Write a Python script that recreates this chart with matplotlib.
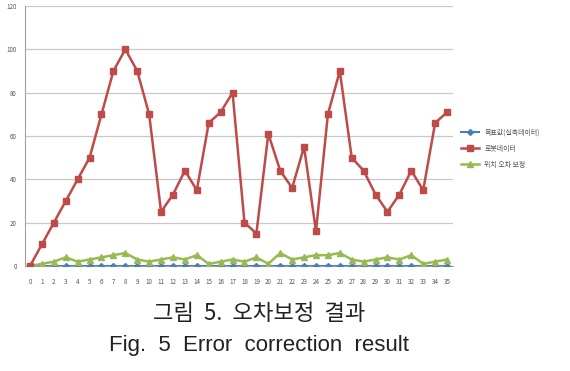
import matplotlib
matplotlib.use("Agg")
import matplotlib.pyplot as plt

plt.rcParams['font.family'] = ['Noto Sans CJK KR', 'DejaVu Sans']

x_labels = list(range(36))
target = [0] * 36
robot = [0, 10, 20, 30, 40, 50, 70, 90, 100, 90, 70, 25, 33, 44, 35, 66, 71, 80,
         20, 15, 61, 44, 36, 55, 16, 70, 90, 50, 44, 33, 25, 33, 44, 35, 66, 71]
corrected = [0, 1, 2, 4, 2, 3, 4, 5, 6, 3, 2, 3, 4, 3, 5, 1, 2, 3,
             2, 4, 1, 6, 3, 4, 5, 5, 6, 3, 2, 3, 4, 3, 5, 1, 2, 3]
series_names = ["목표값(실측데이터)", "로봇데이터", "위치 오차 보정"]
y_ticks = [0, 20, 40, 60, 80, 100, 120]

fig = plt.figure(figsize=(5.70, 3.71), dpi=100)
ax = fig.add_axes([25/570, 1 - 266/371, (453-25)/570, 260/371])

ax.plot(x_labels, target, color='#4a7ebb', marker='D', markersize=3, lw=1.5,
        label=series_names[0], zorder=3)
ax.plot(x_labels, robot, color='#be4b48', marker='s', markersize=5, lw=1.8,
        label=series_names[1], zorder=4)
ax.plot(x_labels, corrected, color='#98b954', marker='^', markersize=4, lw=1.8,
        label=series_names[2], zorder=3)

ax.set_xlim(-0.42, 35.5)
ax.set_ylim(0, 120)
ax.set_yticks(y_ticks)
ax.set_xticks(x_labels)
ax.set_xticklabels([str(v) for v in x_labels])
ax.grid(axis='y', color='#c8c8c8', lw=0.9)
ax.set_axisbelow(True)
for s in ['top', 'right']:
    ax.spines[s].set_visible(False)
ax.spines['left'].set_color('#a0a0a0')
ax.spines['bottom'].set_color('#a0a0a0')
ax.tick_params(axis='both', length=0, labelsize=4.5, colors='#555555')
ax.tick_params(axis='y', pad=6)
ax.tick_params(axis='x', pad=9)

leg = ax.legend(loc='upper left', bbox_to_anchor=(455/570, 1 - 122/371),
                bbox_transform=fig.transFigure, frameon=False, fontsize=5,
                handlelength=2.5, labelspacing=1.2, labelcolor='#555555')

fig.text(259/570, 1 - 313/371, "그림  5.  오차보정  결과", ha='center', va='center',
         fontsize=16, color='#222222')
fig.text(259/570, 1 - 346/371, "Fig.  5  Error  correction  result", ha='center',
         va='center', fontsize=16, color='#222222',
         family=['Liberation Sans Narrow', 'Liberation Sans', 'DejaVu Sans'])

fig.savefig("out.png", dpi=100, facecolor='white')
